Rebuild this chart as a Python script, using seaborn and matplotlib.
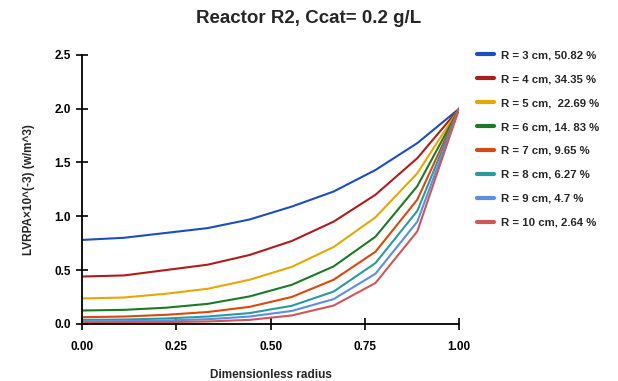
import numpy as np
import pandas as pd
import matplotlib
import matplotlib.pyplot as plt
import seaborn as sns

matplotlib.use('Agg')

# radial positions (10 points from centre to wall)
radius = [0.0, 0.111, 0.222, 0.333, 0.444, 0.556, 0.667, 0.778, 0.889, 1.0]

labels = [
    "R = 3 cm, 50.82 %",
    "R = 4 cm, 34.35 %",
    "R = 5 cm,  22.69 %",
    "R = 6 cm, 14. 83 %",
    "R = 7 cm, 9.65 %",
    "R = 8 cm, 6.27 %",
    "R = 9 cm, 4.7 %",
    "R = 10 cm, 2.64 %",
]

r3 = [0.78, 0.80, 0.845, 0.89, 0.97, 1.09, 1.23, 1.43, 1.68, 2.0]
r4 = [0.44, 0.45, 0.50, 0.55, 0.64, 0.77, 0.95, 1.20, 1.54, 2.0]
r5 = [0.236, 0.245, 0.28, 0.326, 0.41, 0.53, 0.714, 0.99, 1.40, 2.0]
r6 = [0.124, 0.13, 0.15, 0.186, 0.255, 0.363, 0.534, 0.81, 1.28, 2.0]
r7 = [0.062, 0.068, 0.084, 0.11, 0.158, 0.25, 0.41, 0.67, 1.155, 2.0]
r8 = [0.037, 0.04, 0.05, 0.068, 0.10, 0.168, 0.30, 0.565, 1.05, 2.0]
r9 = [0.022, 0.025, 0.031, 0.043, 0.068, 0.12, 0.23, 0.466, 0.95, 2.0]
r10 = [0.012, 0.013, 0.016, 0.022, 0.037, 0.078, 0.17, 0.38, 0.86, 2.0]

colors = ["#1a4fbf", "#b01c1c", "#e6a800", "#1c7a24",
          "#d9480f", "#2a9aa0", "#5b8fe0", "#d05656"]

series = [r3, r4, r5, r6, r7, r8, r9, r10]
rows = []
for lab, vals in zip(labels, series):
    for x, y in zip(radius, vals):
        rows.append({"radius": x, "value": y, "case": lab})
df = pd.DataFrame(rows)

sns.set_style("white")
plt.rcParams['font.family'] = ['Liberation Sans', 'DejaVu Sans']

fig = plt.figure(figsize=(6.18, 3.81), dpi=100)
ax = fig.add_axes([0.133, 0.150, 0.610, 0.706])
sns.lineplot(data=df, x="radius", y="value", hue="case", palette=colors,
             linewidth=1.5, ax=ax)

ax.set_xlim(0, 1.0)
ax.set_ylim(0, 2.5)
ax.set_xticks([0, 0.25, 0.5, 0.75, 1.0])
ax.set_xticklabels(["0.00", "0.25", "0.50", "0.75", "1.00"])
ax.set_yticks([0, 0.5, 1.0, 1.5, 2.0, 2.5])
ax.set_yticklabels(["0.0", "0.5", "1.0", "1.5", "2.0", "2.5"])
ax.tick_params(bottom=True, left=True, direction='inout', length=8, width=1.2,
               labelsize=8.5, colors='black', pad=4)
ax.tick_params(axis='x', pad=8)
for t in ax.get_xticklabels() + ax.get_yticklabels():
    t.set_fontweight('bold')
for s in ["top", "right"]:
    ax.spines[s].set_visible(False)
for s in ["left", "bottom"]:
    ax.spines[s].set_color('black')
    ax.spines[s].set_linewidth(1.3)

ax.set_xlabel("Dimensionless radius", fontsize=8.5, fontweight='bold', labelpad=12)
ax.set_ylabel("LVRPA\u00d710^(-3) (w/m^3)", fontsize=8.5, fontweight='bold', labelpad=14)
fig.suptitle("Reactor R2, Ccat= 0.2 g/L", fontsize=13.5, fontweight='bold', y=0.975)

leg = ax.legend(loc='upper left', bbox_to_anchor=(1.02, 1.055), frameon=False,
                fontsize=8.2, handlelength=1.5, labelspacing=1.22, handletextpad=0.6)
for t in leg.get_texts():
    t.set_fontweight('bold')
for h in leg.get_lines():
    h.set_linewidth(3)

plt.savefig("out.png", dpi=100)
plt.close()
